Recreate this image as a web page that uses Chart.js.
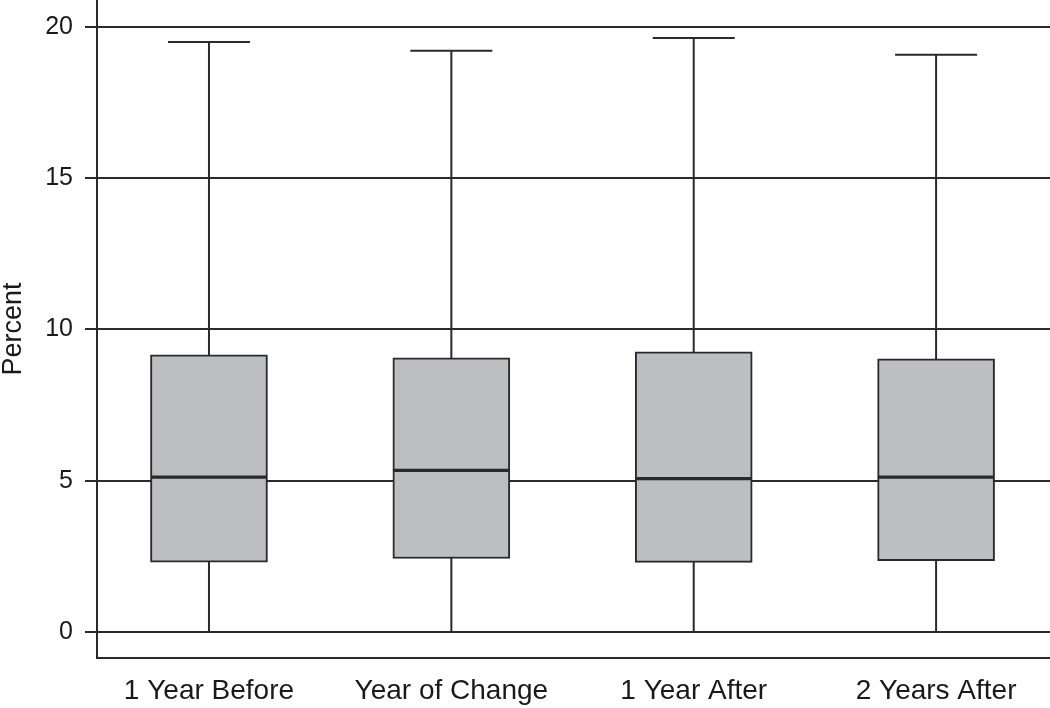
<!DOCTYPE html>
<html>
<head>
<meta charset="utf-8">
<script src="https://cdn.jsdelivr.net/npm/chart.js@4"></script>
<style>
    html, body { margin: 0; padding: 0; background: #fff; }
    #wrap { width: 1050px; height: 708px; }
</style>
</head>
<body>
<div id="wrap"><canvas id="myChart"></canvas></div>
<script>
const categories = ['1 Year Before', 'Year of Change', '1 Year After', '2 Years After'];
const minValues = [0, 0, 0, 0];
const q1Values = [2.31, 2.43, 2.30, 2.36];
const medianValues = [5.12, 5.34, 5.07, 5.12];
const q3Values = [9.16, 9.06, 9.26, 9.03];
const maxValues = [19.50, 19.21, 19.63, 19.08];
const yTicks = [0, 5, 10, 15, 20];

const lineColor = '#2a2a2a';
const boxFill = '#bdbec1';
const capWidth = 82;

// whiskers + caps, drawn under the boxes
const whiskerPlugin = {
    id: 'whiskers',
    beforeDatasetsDraw(chart) {
        const ctx = chart.ctx;
        const x = chart.scales.x;
        const y = chart.scales.y;
        ctx.save();
        ctx.strokeStyle = lineColor;
        ctx.lineWidth = 2;
        categories.forEach((c, i) => {
            const px = x.getPixelForValue(i + 1);
            const top = y.getPixelForValue(maxValues[i]);
            const bottom = y.getPixelForValue(minValues[i]);
            ctx.beginPath();
            ctx.moveTo(px, bottom);
            ctx.lineTo(px, top);
            ctx.moveTo(px - capWidth / 2, top);
            ctx.lineTo(px + capWidth / 2, top);
            ctx.stroke();
        });
        ctx.restore();
    }
};

function boxData(lo, hi) {
    return categories.map((c, i) => ({ x: i + 1, y: [lo[i], hi[i]] }));
}

const boxStyle = {
    backgroundColor: boxFill,
    borderColor: lineColor,
    borderWidth: 2,
    borderSkipped: false,
    barThickness: 117,
    grouped: false
};

const ctx = document.getElementById('myChart').getContext('2d');
const myChart = new Chart(ctx, {
    type: 'bar',
    data: {
        datasets: [
            Object.assign({ label: 'lower', data: boxData(q1Values, medianValues) }, boxStyle),
            Object.assign({ label: 'upper', data: boxData(medianValues, q3Values) }, boxStyle)
        ]
    },
    options: {
        responsive: true,
        maintainAspectRatio: false,
        animation: false,
        layout: { padding: 0 },
        plugins: {
            legend: { display: false },
            tooltip: { enabled: false }
        },
        scales: {
            x: {
                type: 'linear',
                offset: false,
                min: 0.538,
                max: 4.47,
                afterBuildTicks: (scale) => {
                    scale.ticks = categories.map((c, i) => ({ value: i + 1 }));
                },
                afterFit: (scale) => {
                    scale.height = 50;
                    scale.paddingLeft = 0;
                    scale.paddingRight = 0;
                },
                ticks: {
                    autoSkip: false,
                    maxRotation: 0,
                    padding: 16,
                    color: '#1a1a1a',
                    font: { family: 'Liberation Sans, Arial, sans-serif', size: 28 },
                    callback: (v) => categories[Math.round(v) - 1] || ''
                },
                grid: { display: false, drawTicks: false },
                border: { display: true, color: lineColor, width: 2 }
            },
            y: {
                min: -0.86,
                max: 20.89,
                afterBuildTicks: (scale) => {
                    scale.ticks = yTicks.map(v => ({ value: v }));
                },
                afterFit: (scale) => {
                    scale.width = 97;
                    scale.paddingTop = 0;
                    scale.paddingBottom = 0;
                },
                ticks: {
                    padding: 12,
                    color: '#1a1a1a',
                    font: { family: 'Liberation Sans, Arial, sans-serif', size: 25 }
                },
                grid: {
                    color: lineColor,
                    lineWidth: 2,
                    tickLength: 12
                },
                border: { display: true, color: lineColor, width: 2 },
                title: {
                    display: true,
                    text: 'Percent',
                    color: '#1a1a1a',
                    padding: { top: 0, bottom: 0 },
                    font: { family: 'Liberation Sans, Arial, sans-serif', size: 27, lineHeight: 1 }
                }
            }
        }
    },
    plugins: [whiskerPlugin]
});
</script>
</body>
</html>
